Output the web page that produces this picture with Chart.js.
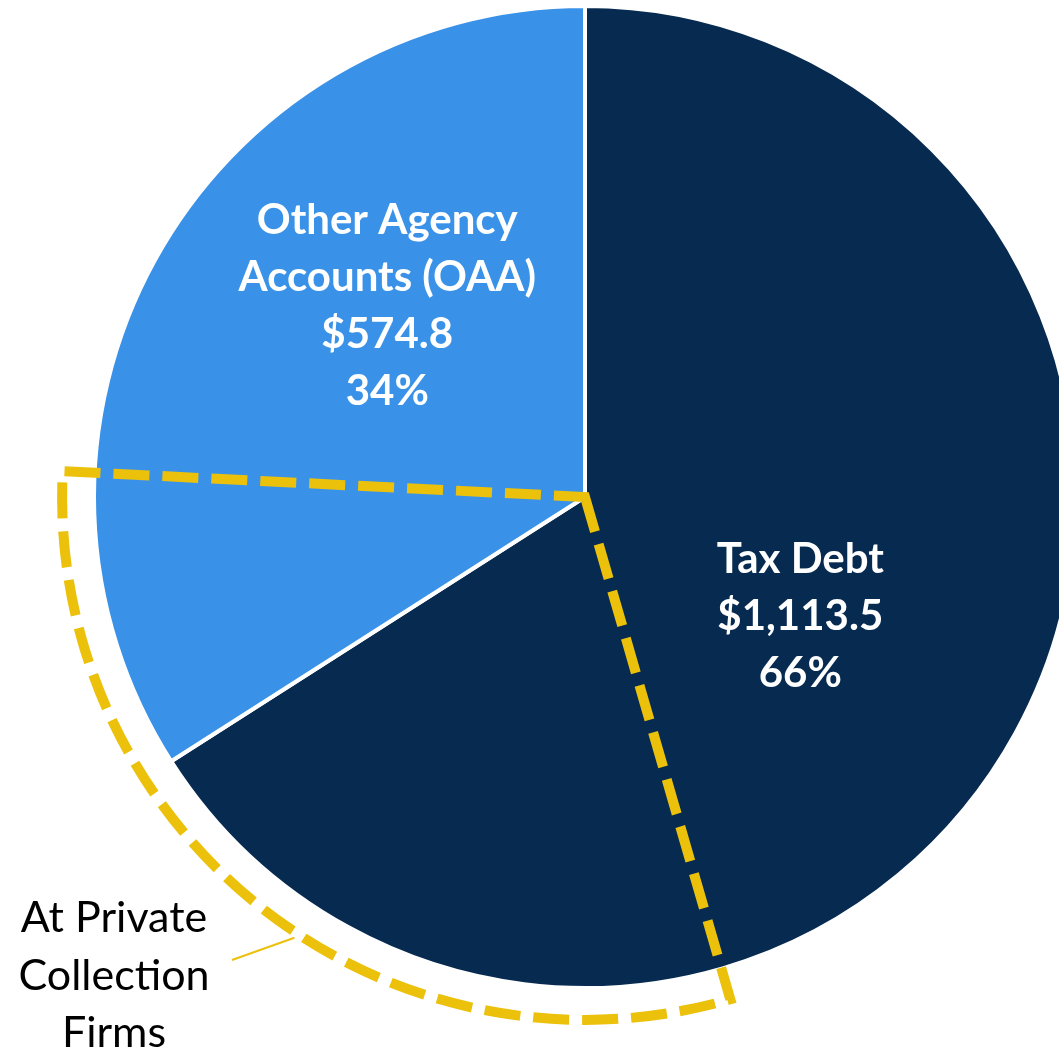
<!DOCTYPE html>
<html>
<head>
<meta charset="utf-8">
<script src="https://cdn.jsdelivr.net/npm/chart.js@4.4.1/dist/chart.umd.min.js"></script>
<style>
  html, body { margin: 0; padding: 0; background: #ffffff; overflow: hidden; width: 1059px; height: 1052px; }
  #wrap { position: relative; width: 1100px; height: 1052px; }
  canvas { display: block; }
</style>
</head>
<body>
<div id="wrap"><canvas id="debtPie" width="1100" height="1052"></canvas></div>
<script>
// Delinquent debt portfolio, $ billions
const categories = ['Tax Debt', 'Other Agency Accounts (OAA)'];
const labelLines = [['Tax Debt'], ['Other Agency', 'Accounts (OAA)']];
const amounts = [1113.5, 574.8];
// portion of each category placed with private collection firms (estimated)
const atPrivateFirms = [345, 166];
const calloutLines = ['At Private', 'Collection', 'Firms'];
const sliceColors = ['#072B50', '#3A92E8'];
const outlineColor = '#EBC10B';

const total = amounts.reduce((a, b) => a + b, 0);
const money = v => '$' + v.toLocaleString('en-US', { minimumFractionDigits: 1, maximumFractionDigits: 1 });
const pct = v => Math.round(v / total * 100) + '%';
const TAU = Math.PI * 2;

// white bold labels inside each slice
const sliceLabels = {
  id: 'sliceLabels',
  afterDatasetsDraw(chart, args, opts) {
    const { ctx } = chart;
    const arcs = chart.getDatasetMeta(0).data;
    ctx.save();
    ctx.fillStyle = '#ffffff';
    ctx.font = opts.font;
    ctx.textAlign = 'center';
    ctx.textBaseline = 'alphabetic';
    arcs.forEach((arc, i) => {
      const place = opts.placement[i];
      const mid = (arc.startAngle + arc.endAngle) / 2 + place.shift * Math.PI / 180;
      const r = arc.outerRadius * place.frac;
      const x = arc.x + Math.cos(mid) * r;
      const y = arc.y + Math.sin(mid) * r;
      const lines = [...labelLines[i], money(amounts[i]), pct(amounts[i])];
      const first = y - (lines.length - 1) * opts.lineHeight / 2 + opts.capHeight / 2;
      lines.forEach((t, k) => ctx.fillText(t, x, first + k * opts.lineHeight));
    });
    ctx.restore();
  }
};

// dashed wedge marking the share held at private collection firms
const privateFirmsOutline = {
  id: 'privateFirmsOutline',
  afterDatasetsDraw(chart, args, opts) {
    const { ctx } = chart;
    const arcs = chart.getDatasetMeta(0).data;
    const cx = arcs[0].x, cy = arcs[0].y;
    const boundary = arcs[0].endAngle;
    const start = boundary - atPrivateFirms[0] / total * TAU;
    const end = boundary + atPrivateFirms[1] / total * TAU;
    const r = arcs[0].outerRadius * opts.radiusScale;
    ctx.save();
    ctx.strokeStyle = outlineColor;
    ctx.lineWidth = opts.lineWidth;
    ctx.lineJoin = 'miter';
    ctx.setLineDash(opts.dash);
    ctx.beginPath();
    ctx.moveTo(cx, cy);
    ctx.arc(cx, cy, r, start, end);
    ctx.closePath();
    ctx.stroke();

    // callout leader and text
    const a = opts.calloutAngle * Math.PI / 180 - Math.PI / 2;
    const re = r + opts.lineWidth / 2;
    ctx.setLineDash([]);
    ctx.lineWidth = 2;
    ctx.beginPath();
    ctx.moveTo(opts.calloutFrom.x, opts.calloutFrom.y);
    ctx.lineTo(cx + Math.cos(a) * re, cy + Math.sin(a) * re);
    ctx.stroke();

    ctx.fillStyle = '#000000';
    ctx.font = opts.font;
    ctx.textAlign = 'center';
    ctx.textBaseline = 'alphabetic';
    calloutLines.forEach((t, k) => ctx.fillText(t, opts.textX, opts.textY + k * opts.lineHeight));
    ctx.restore();
  }
};

new Chart(document.getElementById('debtPie'), {
  type: 'pie',
  data: {
    labels: categories,
    datasets: [{
      data: amounts,
      backgroundColor: sliceColors,
      borderColor: '#ffffff',
      borderWidth: 4,
      hoverOffset: 0
    }]
  },
  options: {
    responsive: false,
    animation: false,
    events: [],
    layout: { padding: { left: 92, right: 22, top: 4, bottom: 62 } },
    plugins: {
      legend: { display: false },
      tooltip: { enabled: false },
      sliceLabels: {
        font: 'bold 42px Lato',
        lineHeight: 57,
        capHeight: 30,
        placement: [{ frac: 0.5, shift: 0 }, { frac: 0.562, shift: 15.5 }]
      },
      privateFirmsOutline: {
        radiusScale: 1.065,
        lineWidth: 10,
        dash: [36, 13],
        calloutAngle: 213.4,
        calloutFrom: { x: 232, y: 960 },
        font: '43px Lato',
        textX: 114,
        textY: 932,
        lineHeight: 57.5
      }
    }
  },
  plugins: [privateFirmsOutline, sliceLabels]
});
</script>
</body>
</html>
